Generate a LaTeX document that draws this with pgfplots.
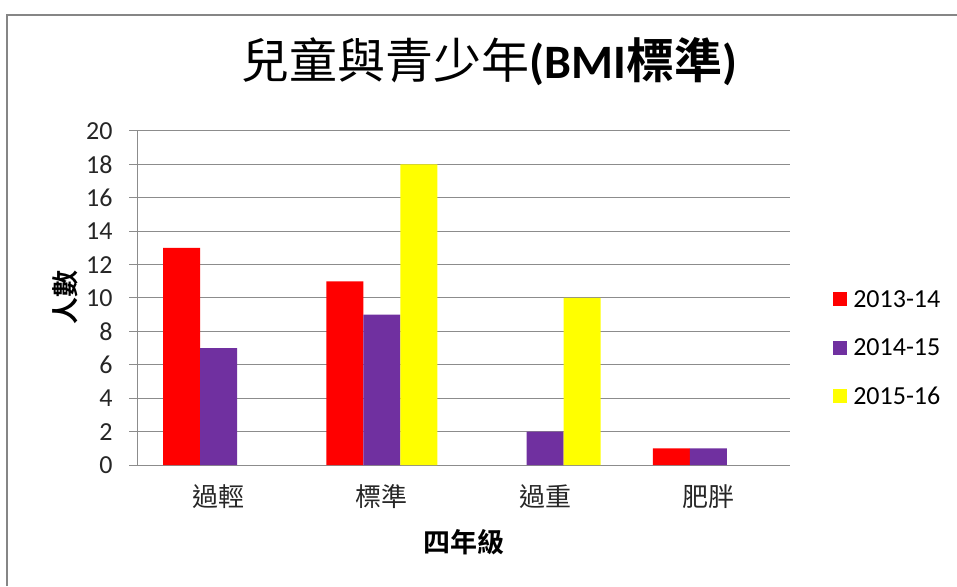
\documentclass[border=0pt]{standalone}
\usepackage{fontspec}
\usepackage{pgfplots}
\pgfplotsset{compat=1.18}
\setmainfont{Carlito}
\newfontfamily\cjk{Noto Sans CJK TC}[BoldFont={Noto Sans CJK TC Bold}]
\definecolor{sRed}{HTML}{FF0000}
\definecolor{sPurple}{HTML}{7030A0}
\definecolor{sYellow}{HTML}{FFFF00}
\definecolor{frameGray}{HTML}{868686}
\definecolor{gridGray}{HTML}{8C8C8C}
\pgfplotsset{
  /pgfplots/ybar legend/.style = {
    /pgfplots/legend image code/.code = {%
      \fill[##1] (0pt,-7pt) rectangle (14pt,7pt);},
  },
}

\begin{document}
\begin{tikzpicture}
  \useasboundingbox (0,0) rectangle (957pt,586pt);
  \draw[frameGray, line width=2pt] (7pt,0pt) -- (7pt,571pt) -- (960pt,571pt);
  \begin{axis}[
    at = {(137pt,121pt)},
    anchor = south west,
    scale only axis,
    width = 653pt,
    height = 334pt,
    ybar = 0pt,
    bar width = 37pt,
    xmin = -0.5, xmax = 3.5,
    ymin = 0, ymax = 20,
    ytick distance = 2,
    xtick = {0,1,2,3},
    xticklabels = {過輕, 標準, 過重, 肥胖},
    axis x line* = bottom,
    axis y line* = left,
    axis line style = {draw=gridGray, line width=1pt, -},
    ymajorgrids,
    major grid style = {draw=gridGray, line width=1pt},
    tick align = outside,
    major tick length = 8pt,
    ytick style = {draw=gridGray, line width=1pt},
    xtick style = {draw=none},
    /pgf/number format/assume math mode = true,
    tick label style = {font=\fontsize{26}{30}\selectfont, text=black!85},
    yticklabel style = {xshift=-13pt},
    xticklabel style = {font=\cjk\fontsize{26}{30}\selectfont, anchor=center, yshift=-24pt},
    title = {{\cjk 兒童與青少年}\textbf{(BMI{\cjk 標準})}},
    title style = {at={(0.54,1.19)}, anchor=center, font=\fontsize{48}{54}\selectfont},
    xlabel = {\textbf{四年級}},
    xlabel style = {at={(axis description cs:0.5,-0.23)}, anchor=center, font=\cjk\fontsize{27}{30}\selectfont},
    ylabel = {\textbf{人數}},
    ylabel style = {at={(axis description cs:-0.11,0.5)}, anchor=center, font=\cjk\fontsize{27}{30}\selectfont},
    legend style = {
      at = {(1.066,0.35)}, anchor = west,
      draw = none, fill = none,
      font = \fontsize{26}{30}\selectfont,
      row sep = 24pt,
      inner sep = 0pt,
      nodes = {inner sep = 3pt},
      /tikz/every odd column/.append style = {column sep = 3pt},
    },
    legend cell align = left,
  ]
    \addplot[draw=none, fill=sRed] coordinates { (0,13) (1,11) (3,1) };
    \addlegendentry{2013-14}
    \addplot[draw=none, fill=sPurple] coordinates { (0,7) (1,9) (2,2) (3,1) };
    \addlegendentry{2014-15}
    \addplot[draw=none, fill=sYellow] coordinates { (1,18) (2,10) };
    \addlegendentry{2015-16}
  \end{axis}
\end{tikzpicture}
\end{document}
